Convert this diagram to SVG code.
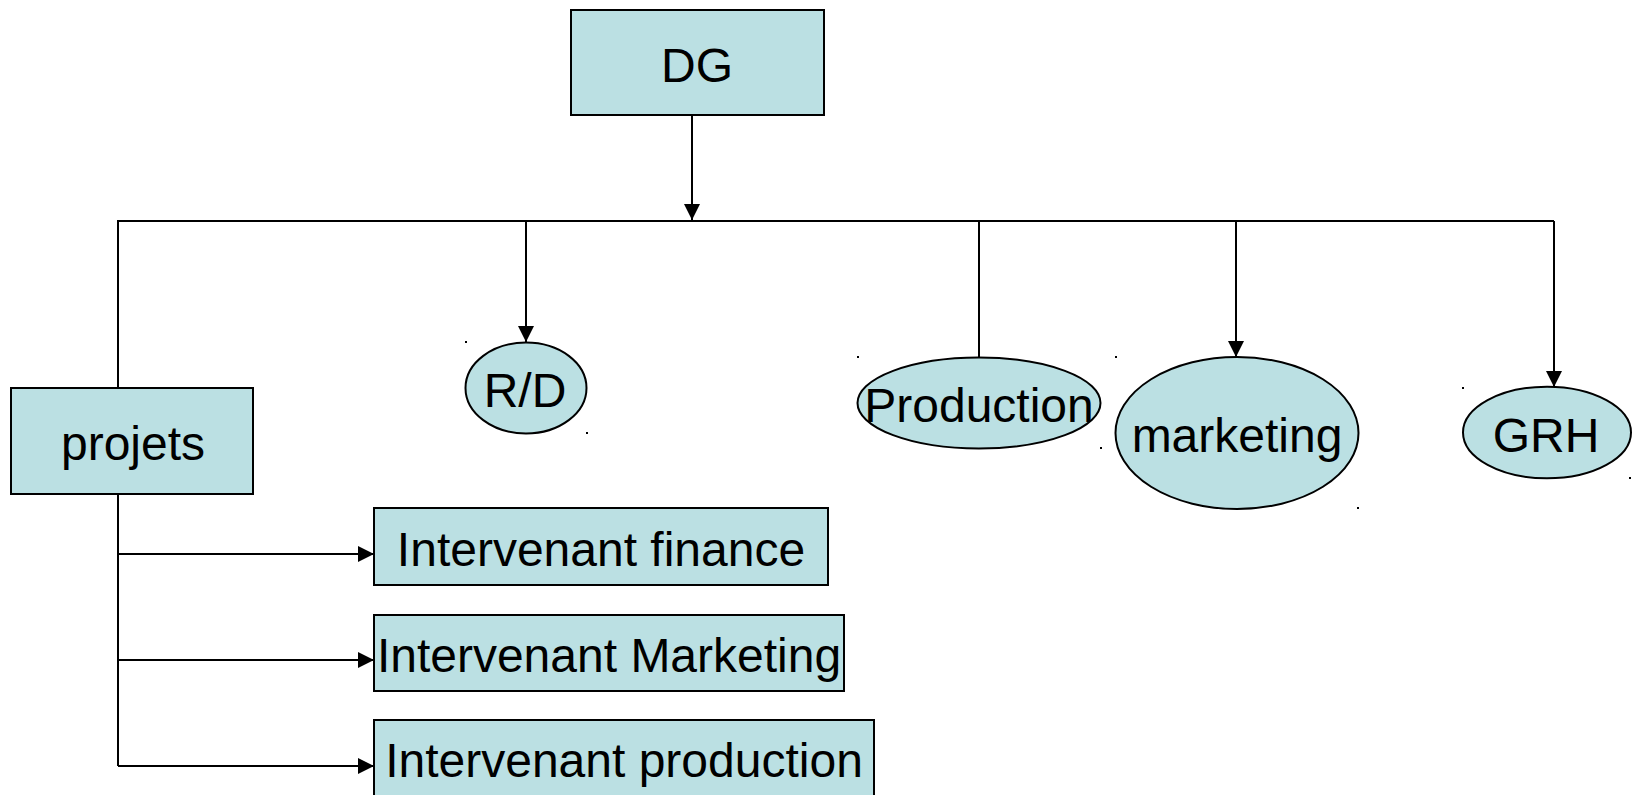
<svg xmlns="http://www.w3.org/2000/svg" width="1637" height="795" viewBox="0 0 1637 795">
<style>
.box{fill:#bbe0e3;stroke:#000;stroke-width:2}
.t{font-family:"Liberation Sans",Arial,sans-serif;font-size:48px;fill:#000;text-anchor:middle}
.c{fill:none;stroke:#000;stroke-width:2}
.dot{fill:#000}
</style>
<defs>
<marker id="ah" markerUnits="userSpaceOnUse" markerWidth="16" markerHeight="16" viewBox="0 0 14 14" refX="14" refY="7" orient="auto">
<path d="M0,0 L14,7 L0,14 Z" fill="#000"/>
</marker>
</defs>
<rect width="1637" height="795" fill="#fff"/>
<g id="connectors">
<path class="c" d="M692,115 V220" marker-end="url(#ah)"/>
<path class="c" d="M118,387 V221 H1554"/>
<path class="c" d="M526,221 V342" marker-end="url(#ah)"/>
<path class="c" d="M979,221 V357"/>
<path class="c" d="M1236,221 V357" marker-end="url(#ah)"/>
<path class="c" d="M1554,221 V387" marker-end="url(#ah)"/>
<path class="c" d="M118,494 V766"/>
<path class="c" d="M118,554 H374" marker-end="url(#ah)"/>
<path class="c" d="M118,660 H374" marker-end="url(#ah)"/>
<path class="c" d="M118,766 H374" marker-end="url(#ah)"/>
</g>
<g id="dg"><rect class="box" x="571" y="10" width="253" height="105"/><text class="t" x="697" y="82">DG</text></g>
<g id="projets"><rect class="box" x="11" y="388" width="242" height="106"/><text class="t" x="133" y="460">projets</text></g>
<g id="rd"><ellipse class="box" cx="526" cy="388" rx="60.5" ry="45.5"/><text class="t" x="525" y="407">R/D</text>
<rect class="dot" x="465" y="341" width="2" height="2"/><rect class="dot" x="586" y="432" width="2" height="2"/></g>
<g id="production"><ellipse class="box" cx="979" cy="403" rx="121.5" ry="45.5"/><text class="t" x="979" y="422">Production</text>
<rect class="dot" x="857" y="356" width="2" height="2"/><rect class="dot" x="1100" y="447" width="2" height="2"/></g>
<g id="marketing"><ellipse class="box" cx="1237" cy="433" rx="121.5" ry="76"/><text class="t" x="1237" y="452">marketing</text>
<rect class="dot" x="1115" y="356" width="2" height="2"/><rect class="dot" x="1357" y="507" width="2" height="2"/></g>
<g id="grh"><ellipse class="box" cx="1547" cy="432.5" rx="84" ry="45.8"/><text class="t" x="1546" y="452">GRH</text>
<rect class="dot" x="1462" y="387" width="2" height="2"/><rect class="dot" x="1629" y="477" width="2" height="2"/></g>
<g id="int-finance"><rect class="box" x="374" y="508" width="454" height="77"/><text class="t" x="601" y="566">Intervenant finance</text></g>
<g id="int-marketing"><rect class="box" x="374" y="615" width="470" height="76"/><text class="t" x="609" y="672">Intervenant Marketing</text></g>
<g id="int-production"><rect class="box" x="374" y="720" width="500" height="80"/><text class="t" x="624" y="777">Intervenant production</text></g>
</svg>
